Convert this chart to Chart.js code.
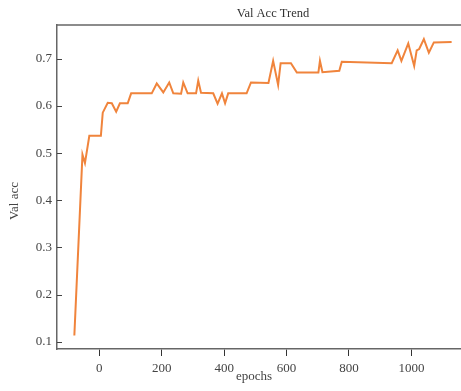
<!DOCTYPE html>
<html>
<head>
<meta charset="utf-8">
<script src="https://cdn.jsdelivr.net/npm/chart.js@4/dist/chart.umd.min.js"></script>
<style>
  html, body { margin: 0; padding: 0; background: #fff; }
  #wrap { width: 461px; height: 391px; position: relative; }
</style>
</head>
<body>
<div id="wrap"><canvas id="accChart"></canvas></div>
<script>
// Data
const epochs = [-80, -54, -46, -32, 5, 11, 27, 40, 54, 66, 91, 102, 168, 184, 205, 224, 237, 262,
  269, 283, 310, 317, 326, 365, 379, 393, 403, 413, 472, 486, 542, 557, 573, 581, 614, 633,
  702, 707, 715, 769, 777, 937, 956, 968, 990, 1009, 1017, 1025, 1040, 1056, 1072, 1129];
const valAcc = [0.113, 0.497, 0.479, 0.537, 0.537, 0.586, 0.607, 0.606, 0.588, 0.606, 0.606, 0.627,
  0.627, 0.648, 0.629, 0.650, 0.627, 0.626, 0.650, 0.627, 0.627, 0.654, 0.628, 0.627, 0.605,
  0.627, 0.606, 0.627, 0.627, 0.650, 0.649, 0.696, 0.645, 0.691, 0.691, 0.671, 0.671, 0.696,
  0.672, 0.675, 0.694, 0.691, 0.718, 0.696, 0.733, 0.685, 0.718, 0.721, 0.742, 0.713, 0.735, 0.736];
const yTicks = [0.1, 0.2, 0.3, 0.4, 0.5, 0.6, 0.7];
const xTicks = [0, 200, 400, 600, 800, 1000];

const FONT = "'Liberation Serif', 'DejaVu Serif', serif";
const TEXT = '#444';
const AXIS = '#666';

// -----------------------------
// Extra drawing: titles, top border, inward y ticks
// -----------------------------
const decor = {
  id: 'decor',
  afterDraw(chart) {
    const { ctx, chartArea: a, scales } = chart;
    ctx.save();
    ctx.strokeStyle = AXIS;
    ctx.lineWidth = 1.5;
    // top frame line
    ctx.beginPath();
    ctx.moveTo(a.left, a.top);
    ctx.lineTo(a.right, a.top);
    ctx.stroke();
    // y ticks pointing into the plot
    ctx.lineWidth = 1;
    ctx.strokeStyle = '#444';
    scales.y.ticks.forEach(t => {
      const py = Math.round(scales.y.getPixelForValue(t.value)) + 0.5;
      ctx.beginPath();
      ctx.moveTo(a.left, py);
      ctx.lineTo(a.left + 5, py);
      ctx.stroke();
    });
    ctx.fillStyle = '#333';
    ctx.font = '12.5px ' + FONT;
    ctx.textAlign = 'center';
    ctx.textBaseline = 'middle';
    ctx.fillText('Val Acc Trend', 273, 14);
    ctx.fillStyle = TEXT;
    ctx.font = '13px ' + FONT;
    ctx.fillText('epochs', 254, 377);
    ctx.translate(15, 201);
    ctx.rotate(-Math.PI / 2);
    ctx.fillText('Val acc', 0, 0);
    ctx.restore();
  }
};

new Chart(document.getElementById('accChart'), {
  type: 'line',
  data: {
    datasets: [{
      label: 'Val acc',
      data: epochs.map((e, i) => ({ x: e, y: valAcc[i] })),
      borderColor: '#F0843C',
      borderWidth: 2,
      pointRadius: 0,
      tension: 0,
      fill: false
    }]
  },
  options: {
    responsive: true,
    maintainAspectRatio: false,
    animation: false,
    layout: { padding: { top: 25, right: 0, left: 0, bottom: 0 } },
    plugins: {
      legend: { display: false },
      title: { display: false },
      tooltip: { enabled: false }
    },
    scales: {
      x: {
        type: 'linear',
        min: -135.6,
        max: 1159,
        afterFit: s => { s.height = 42; },
        afterBuildTicks: s => { s.ticks = xTicks.map(v => ({ value: v })); },
        grid: { drawOnChartArea: false, tickLength: 7, tickColor: '#333', color: '#333' },
        border: { color: AXIS, width: 1.5 },
        ticks: {
          color: TEXT,
          font: { family: FONT, size: 13 },
          padding: 5,
          maxRotation: 0,
          callback: v => String(v)
        }
      },
      y: {
        type: 'linear',
        min: 0.0845,
        max: 0.772,
        afterFit: s => { s.width = 57; },
        afterBuildTicks: s => { s.ticks = yTicks.map(v => ({ value: v })); },
        grid: { drawOnChartArea: false, drawTicks: false },
        border: { color: AXIS, width: 1.5 },
        ticks: {
          color: TEXT,
          font: { family: FONT, size: 13 },
          padding: 5,
          callback: v => v.toFixed(1)
        }
      }
    }
  },
  plugins: [decor]
});
</script>
</body>
</html>
